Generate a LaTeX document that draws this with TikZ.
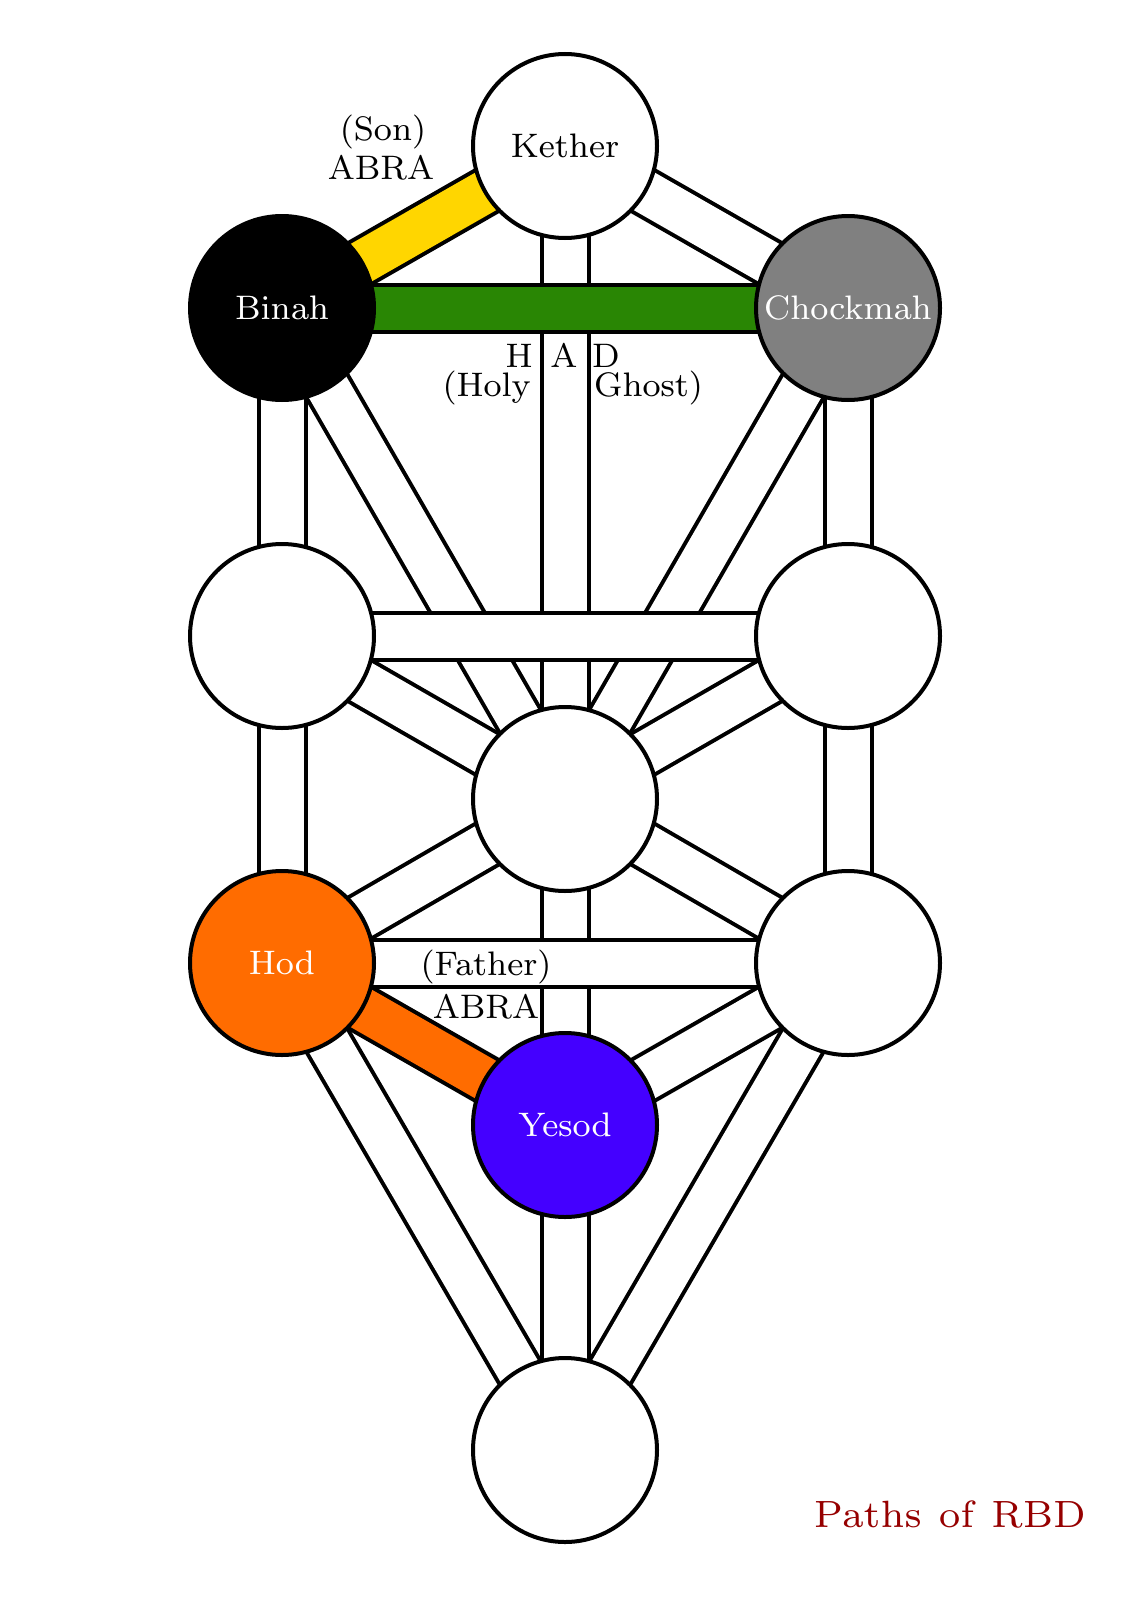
\documentclass[tikz,border=0pt]{standalone}
\usepackage{xcolor}
\definecolor{pyellow}{RGB}{255,214,0}
\definecolor{pgreen}{RGB}{41,134,4}
\definecolor{porange}{RGB}{255,108,0}
\definecolor{pblue}{RGB}{68,0,255}
\definecolor{pgrey}{RGB}{128,128,128}
\definecolor{pred}{RGB}{150,0,0}
\font\lblfont=cmr8 at 34pt
\font\ttlfont=cmr7 at 38pt
\pgfdeclarelayer{bg}
\pgfsetlayers{bg,main}
\tikzset{
  sephira/.style={circle, draw=black, line width=4pt, minimum size=184pt, inner sep=0pt, fill=white, font=\lblfont},
  lbl/.style={inner sep=0pt, font=\lblfont, anchor=base},
  bandouter/.style={line width=51pt, black},
  bandinner/.style={line width=43pt},
}
\newcommand\band[3][white]{%
  \draw[bandouter] (#2.center) -- (#3.center);
  \draw[bandinner,#1] (#2.center) -- (#3.center);}
\begin{document}
\begin{tikzpicture}[x=1pt,y=-1pt]
\useasboundingbox (0,0) rectangle (1131,1600);
% sephiroth
\node[sephira] (kether) at (565,146) {Kether};
\node[sephira, fill=black, text=white] (binah) at (282,308) {Binah};
\node[sephira, fill=pgrey, text=white] (chockmah) at (848,308) {Chockmah};
\node[sephira] (geburah) at (282,636) {};
\node[sephira] (chesed) at (848,636) {};
\node[sephira] (tiphareth) at (565,799) {};
\node[sephira, fill=porange, text=white] (hod) at (282,963) {Hod};
\node[sephira] (netzach) at (848,963) {};
\node[sephira, fill=pblue, text=white] (yesod) at (565,1125) {Yesod};
\node[sephira] (malkuth) at (565,1450) {};
% paths
\begin{pgfonlayer}{bg}
\fill[white] (0,0) rectangle (1131,1600);
\band[pyellow]{kether}{binah}
\band{kether}{chockmah}
\band{kether}{tiphareth}
\band{binah}{geburah}
\band{binah}{tiphareth}
\band{chockmah}{chesed}
\band{chockmah}{tiphareth}
\band{geburah}{tiphareth}
\band{geburah}{hod}
\band{chesed}{tiphareth}
\band{chesed}{netzach}
\band{tiphareth}{hod}
\band{tiphareth}{netzach}
\band{tiphareth}{yesod}
\band[porange]{hod}{yesod}
\band{hod}{malkuth}
\band{netzach}{yesod}
\band{netzach}{malkuth}
\band{yesod}{malkuth}
\band[pgreen]{binah}{chockmah}
\band{geburah}{chesed}
\band{hod}{netzach}
\end{pgfonlayer}
% labels
\node[lbl] (son) at (383,140) {(Son)};
\node[lbl] (abra1) at (381,179) {ABRA};
\node[lbl, anchor=base east] (hh) at (533,367) {H};
\node[lbl] (aa) at (564,367) {A};
\node[lbl, anchor=base west] (dd) at (592,367) {D};
\node[lbl, anchor=base east] (holy) at (531,396) {(Holy};
\node[lbl, anchor=base west] (ghost) at (594,396) {Ghost)};
\node[lbl] (father) at (486,975) {(Father)};
\node[lbl] (abra2) at (486,1018) {ABRA};
\node[inner sep=0pt, anchor=base, text=pred, font=\ttlfont] (title) at (950,1527) {Paths\hspace{0.4em}of\hspace{0.4em}RBD};
\end{tikzpicture}
\end{document}
